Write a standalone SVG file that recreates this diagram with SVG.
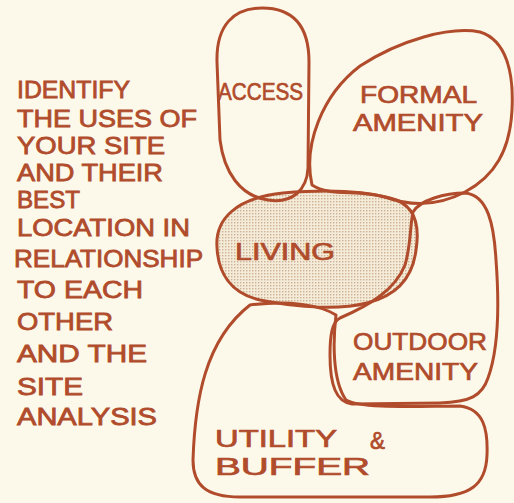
<svg xmlns="http://www.w3.org/2000/svg" width="514" height="503" viewBox="0 0 514 503">
  <defs>
    <pattern id="dots" width="3" height="3" patternUnits="userSpaceOnUse">
      <rect width="3" height="3" fill="#f4ecd9"/>
      <rect x="0" y="0" width="1.4" height="1.4" fill="#cdb193"/>
    </pattern>
    <style>
      .bubble { fill: none; stroke: #b04c2c; stroke-width: 3; stroke-linejoin: round; stroke-linecap: round; }
      .shaded { fill: url(#dots); }
      .lbl { font-family: "Liberation Sans", Arial, sans-serif; fill: #b04c2c; stroke: #b04c2c; stroke-width: 0.7; font-size: 24px; }
      .note { font-family: "Liberation Sans", Arial, sans-serif; fill: #b04c2c; stroke: #b04c2c; stroke-width: 0.8; font-size: 24px; }
    </style>
  </defs>

  <rect width="514" height="503" fill="#fdf9ea"/>

  <!-- explanatory note -->
  <g id="note">
    <text class="note" x="17" y="98" textLength="113" lengthAdjust="spacingAndGlyphs">IDENTIFY</text>
    <text class="note" x="17" y="127" textLength="180" lengthAdjust="spacingAndGlyphs">THE USES OF</text>
    <text class="note" x="17" y="154" textLength="148" lengthAdjust="spacingAndGlyphs">YOUR SITE</text>
    <text class="note" x="17" y="181" textLength="146" lengthAdjust="spacingAndGlyphs">AND THEIR</text>
    <text class="note" x="17" y="208" textLength="63" lengthAdjust="spacingAndGlyphs">BEST</text>
    <text class="note" x="17" y="236" textLength="173" lengthAdjust="spacingAndGlyphs">LOCATION IN</text>
    <text class="note" x="14" y="267" textLength="189" lengthAdjust="spacingAndGlyphs">RELATIONSHIP</text>
    <text class="note" x="17" y="298" textLength="126" lengthAdjust="spacingAndGlyphs">TO EACH</text>
    <text class="note" x="17" y="330" textLength="96" lengthAdjust="spacingAndGlyphs">OTHER</text>
    <text class="note" x="17" y="362" textLength="130" lengthAdjust="spacingAndGlyphs">AND THE</text>
    <text class="note" x="17" y="395" textLength="66" lengthAdjust="spacingAndGlyphs">SITE</text>
    <text class="note" x="17" y="425" textLength="140" lengthAdjust="spacingAndGlyphs">ANALYSIS</text>
  </g>

  <!-- living zone (shaded) -->
  <g id="living">
    <path class="bubble shaded" d="M 217,247 C 215,220 235,198 283,193 C 320,190 360,190 390,198 C 415,204 420,225 416,250 C 413,275 400,295 367,303 C 340,310 300,308 260,300 C 230,293 218,272 217,247 Z"/>
    <text class="lbl" x="235" y="260" font-size="27" textLength="100" lengthAdjust="spacingAndGlyphs">LIVING</text>
  </g>

  <!-- access zone -->
  <g id="access">
    <path class="bubble" d="M 262,8 C 292,8 309,25 309,62 L 308,168 C 307,190 292,204 268,200 C 240,196 224,172 220,140 L 217,62 C 216,25 234,8 262,8 Z"/>
    <text class="lbl" x="218" y="100" textLength="85" lengthAdjust="spacingAndGlyphs">ACCESS</text>
  </g>

  <!-- formal amenity zone -->
  <g id="formal-amenity">
    <path class="bubble" d="M 312,185 C 303,145 322,95 360,66 C 400,40 450,26 480,32 C 506,40 514,72 512,110 C 510,150 495,176 465,192 C 440,205 412,207 385,197 C 358,189 330,197 312,185 Z"/>
    <text class="lbl" x="360" y="103" textLength="117" lengthAdjust="spacingAndGlyphs">FORMAL</text>
    <text class="lbl" x="353" y="131" textLength="130" lengthAdjust="spacingAndGlyphs">AMENITY</text>
  </g>

  <!-- outdoor amenity zone -->
  <g id="outdoor-amenity">
    <path class="bubble" d="M 413,212 C 420,200 445,193 465,193 C 488,195 494,225 496,260 C 499,300 500,345 488,378 C 482,396 470,402 440,403 L 352,404 C 336,402 330,385 330,355 C 330,335 332,322 340,318 C 370,305 395,290 405,265 C 411,245 410,225 413,212 Z"/>
    <text class="lbl" x="353" y="350" textLength="134" lengthAdjust="spacingAndGlyphs">OUTDOOR</text>
    <text class="lbl" x="353" y="380" textLength="125" lengthAdjust="spacingAndGlyphs">AMENITY</text>
  </g>

  <!-- utility and buffer zone -->
  <g id="utility-buffer">
    <path class="bubble" d="M 250,305 C 290,300 320,305 336,315 C 333,340 332,380 346,400 C 360,409 420,406 460,406 C 484,409 488,430 487,455 C 486,485 470,497 430,497 L 240,497 C 206,497 193,485 193,460 C 195,400 205,340 250,305 Z"/>
    <text class="lbl" x="215" y="447" textLength="122" lengthAdjust="spacingAndGlyphs">UTILITY</text>
    <text class="lbl" x="370" y="449" font-size="30" textLength="15" lengthAdjust="spacingAndGlyphs">&amp;</text>
    <text class="lbl" x="215" y="475" textLength="155" lengthAdjust="spacingAndGlyphs">BUFFER</text>
  </g>
</svg>
